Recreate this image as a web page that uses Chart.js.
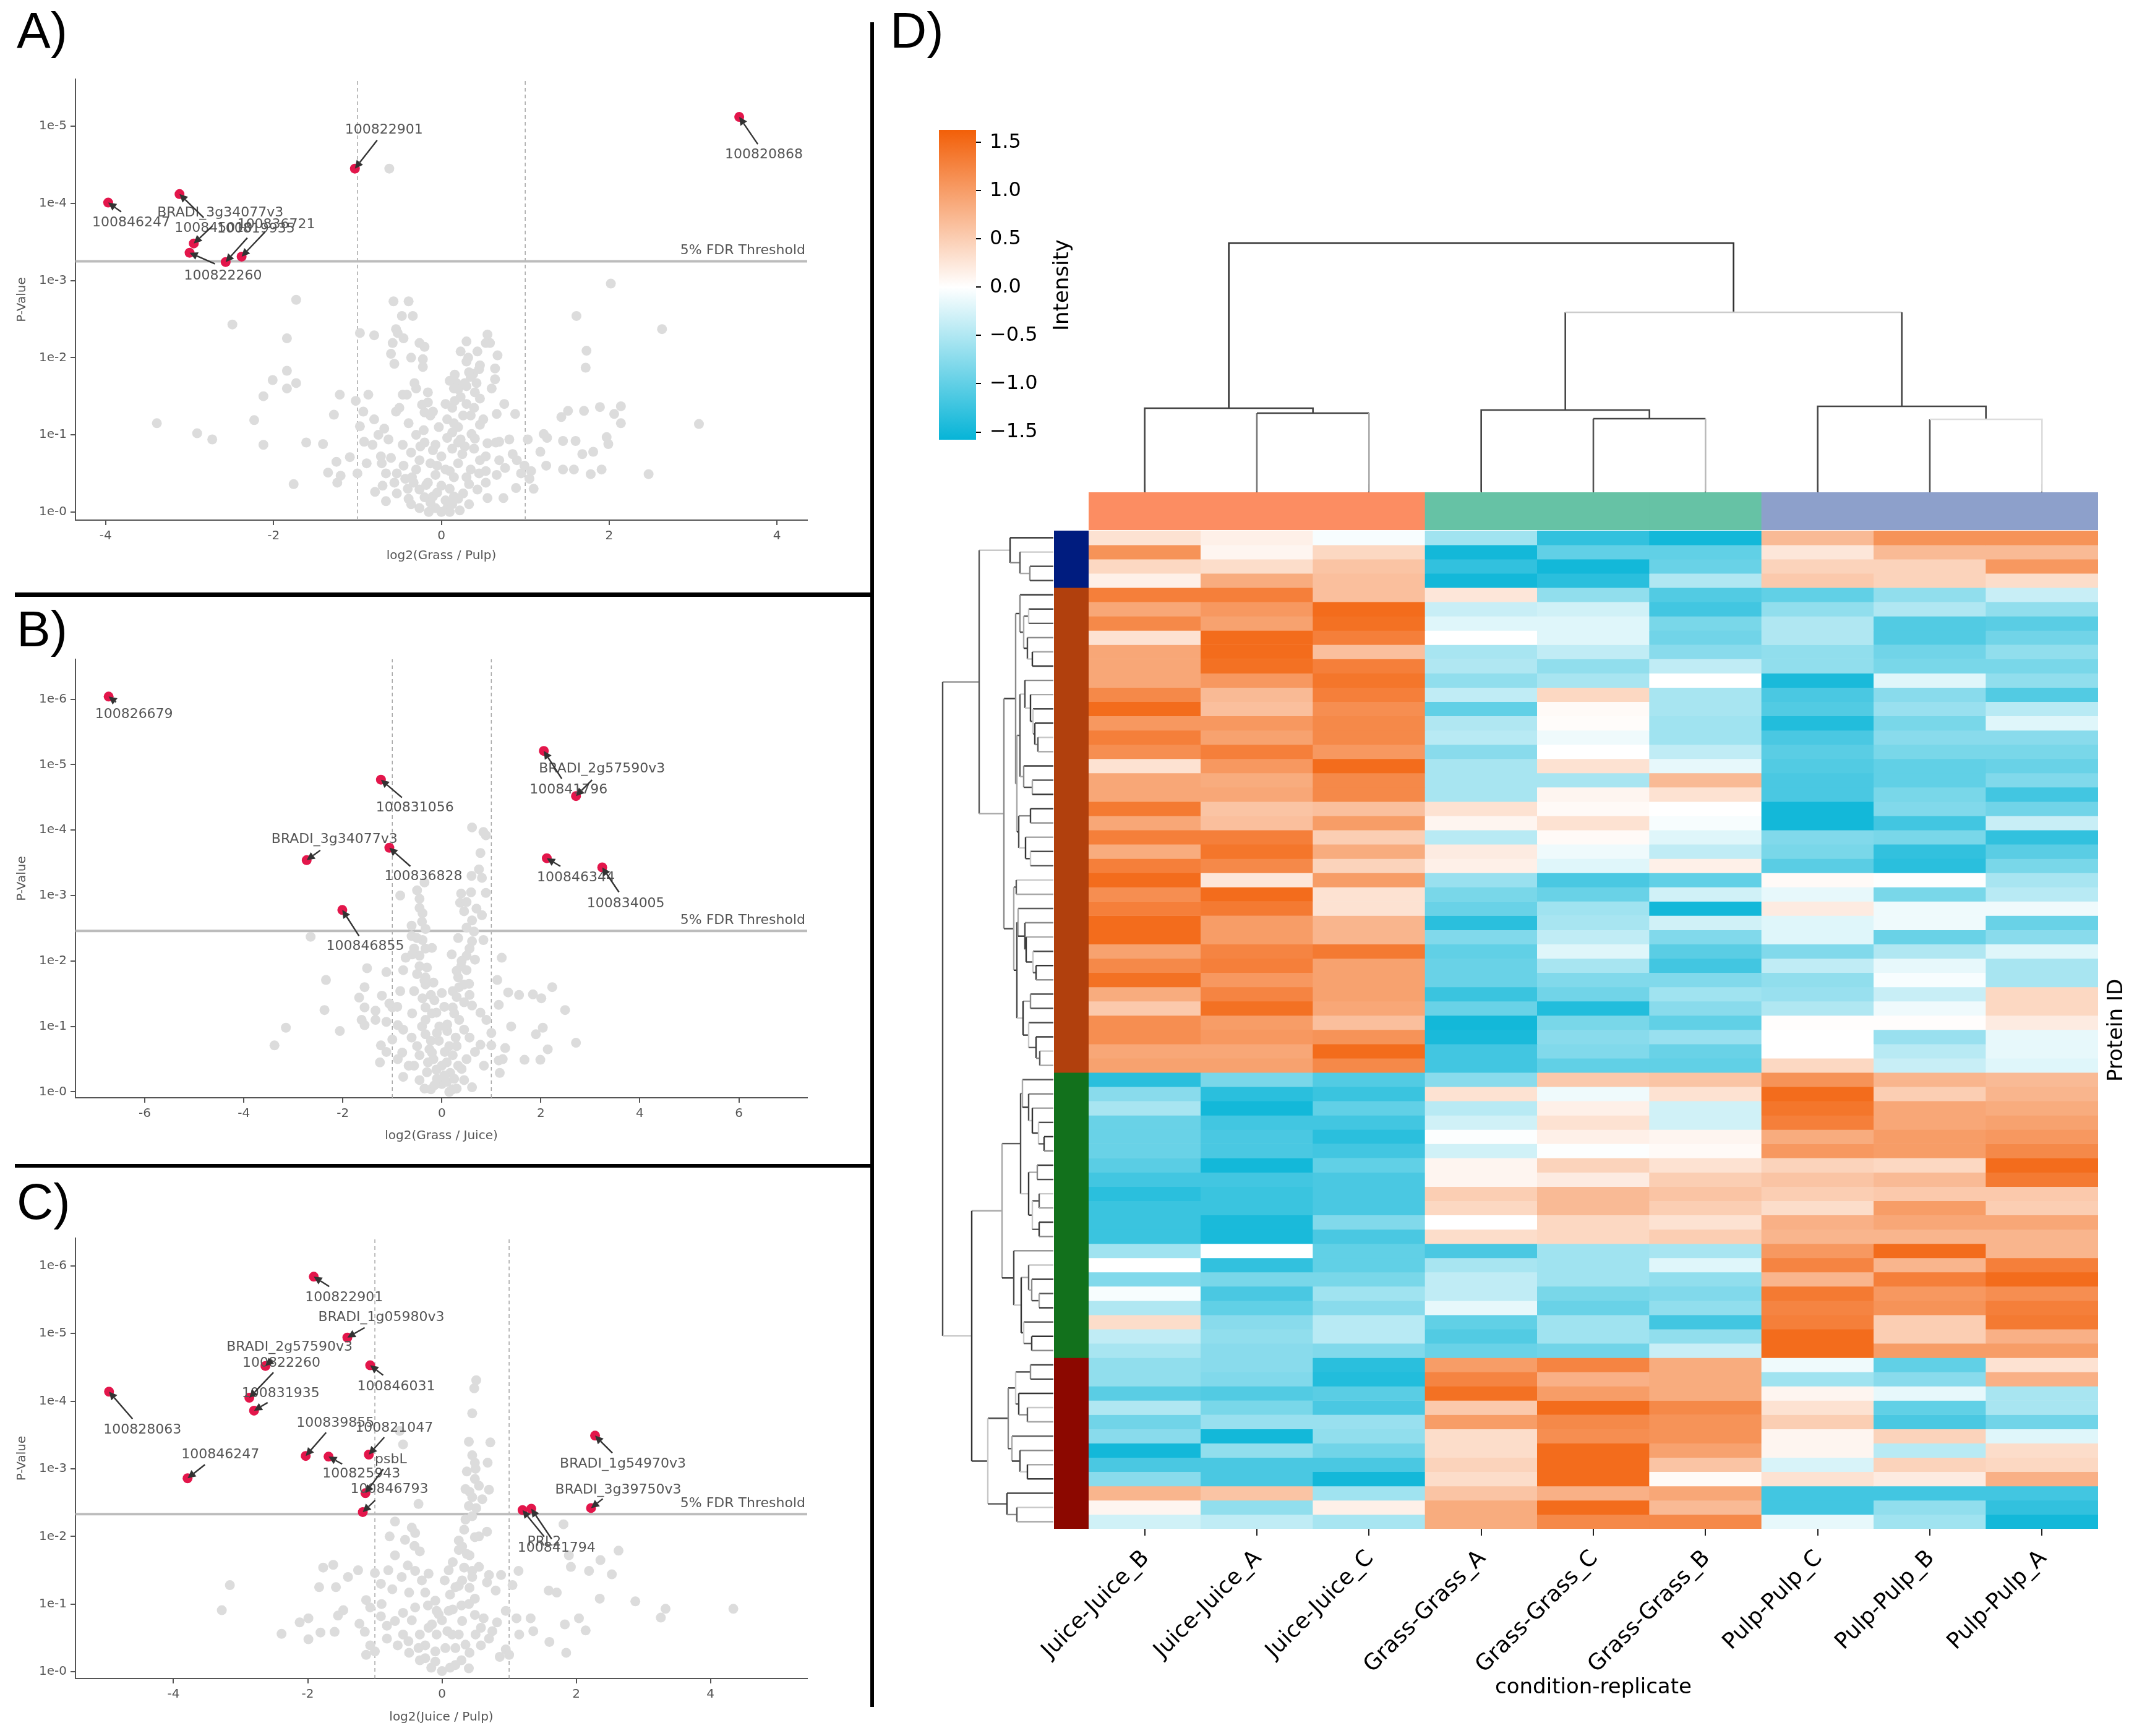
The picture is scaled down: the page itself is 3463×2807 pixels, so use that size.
<!DOCTYPE html>
<html><head><meta charset="utf-8">
<script src="https://cdn.jsdelivr.net/npm/chart.js@4.4.1/dist/chart.umd.min.js"></script>
<style>
html,body{margin:0;padding:0;background:#fff;}
#root{position:relative;width:3463px;height:2807px;overflow:hidden;background:#fff;}
canvas{position:absolute;}
.lbl{position:absolute;font-family:'Liberation Sans',Arial,sans-serif;font-size:82px;line-height:82px;color:#000;}
.sep{position:absolute;background:#000;}
</style></head>
<body><div id="root">
<div class="lbl" style="left:27px;top:8px;">A)</div>
<div class="lbl" style="left:27px;top:976px;">B)</div>
<div class="lbl" style="left:27px;top:1902px;">C)</div>
<div class="lbl" style="left:1439px;top:8px;">D)</div>
<div class="sep" style="left:1407px;top:36px;width:6px;height:2724px;"></div>
<div class="sep" style="left:24px;top:958px;width:1386px;height:7px;"></div>
<div class="sep" style="left:24px;top:1882px;width:1386px;height:6px;"></div>
</div>
<script>
// ================= DATA =================
// Volcano A: log2(Grass / Pulp), y = -log10(p)
const grayA = [[-0.62,4.45],[2.02,2.96],[-1.73,2.75],[-0.57,2.73],[-0.39,2.73],[-0.47,2.54],[-0.34,2.54],[1.61,2.54],[-2.49,2.43],[2.63,2.37],[-0.97,2.32],[-0.80,2.29],[-0.54,2.37],[-0.52,2.32],[-1.84,2.25],[-0.58,2.19],[-0.26,2.19],[-0.20,2.14],[0.30,2.21],[0.53,2.19],[0.58,2.19],[0.23,2.08],[0.43,2.08],[0.67,2.03],[1.73,2.09],[-0.36,2.0],[-0.22,1.98],[-0.56,1.92],[-0.22,1.88],[0.32,2.0],[0.46,1.90],[0.64,1.86],[0.64,1.72],[1.72,1.87],[0.33,1.81],[0.38,1.79],[-1.84,1.83],[-2.01,1.71],[-1.73,1.67],[-1.84,1.60],[-2.12,1.50],[-0.32,1.67],[0.18,1.67],[0.28,1.67],[0.42,1.67],[-1.21,1.52],[-0.87,1.52],[-0.46,1.52],[-0.41,1.52],[-0.16,1.55],[0.2,1.59],[0.16,1.44],[-1.02,1.44],[-0.93,1.30],[-0.54,1.30],[-1.28,1.26],[-0.16,1.42],[-0.20,1.29],[1.51,1.31],[1.70,1.31],[1.89,1.36],[2.06,1.27],[2.14,1.37],[1.43,1.23],[0.66,1.27],[0.88,1.27],[0.46,1.13],[2.14,1.15],[3.07,1.14],[-3.39,1.15],[-2.23,1.19],[-2.91,1.02],[-2.73,0.94],[-2.12,0.87],[-1.61,0.90],[-1.41,0.88],[-0.97,1.11],[-0.92,0.91],[-0.68,1.08],[-0.63,0.94],[-0.39,1.15],[-0.21,1.06],[0.13,1.03],[0.23,0.94],[0.36,1.01],[0.55,0.89],[0.69,0.91],[0.81,0.94],[1.03,0.94],[1.22,1.01],[1.26,0.96],[1.45,0.92],[1.60,0.92],[1.97,0.97],[1.99,0.88],[1.18,0.78],[1.68,0.75],[1.81,0.78],[-1.25,0.65],[-1.09,0.71],[-0.89,0.63],[-0.71,0.63],[-1.35,0.51],[-1.20,0.47],[-1.24,0.38],[-1.76,0.36],[-0.53,0.50],[-0.43,0.43],[-0.33,0.38],[-0.79,0.26],[-0.70,0.34],[-0.36,0.10],[0.55,0.18],[0.74,0.18],[0.89,0.31],[1.05,0.43],[1.07,0.53],[1.25,0.60],[1.45,0.55],[1.58,0.55],[1.78,0.49],[1.91,0.55],[2.47,0.49],[0.90,0.67],[0.99,0.60],[0.69,0.67],[0.76,0.57],[0.46,0.67],[0.53,0.53],[0,0],[-0.07,0.05],[0.07,0.05],[-0.13,0.12],[0.13,0.10],[-0.2,0.19],[0.2,0.17],[-0.26,0.29],[0.26,0.24],[-0.16,0.38],[0,0.34],[0.33,0.36],[-0.07,0.48],[0.1,0.53],[-0.13,0.63],[0.2,0.63],[0,0.72],[0.13,0.82],[-0.07,0.87],[0.07,0.96],[0.2,1.1],[0.26,1.25],[0.13,1.35],[0.23,1.49],[0.30,1.63],[0.16,1.78],[-0.26,0.67],[-0.36,0.77],[-0.46,0.87],[-0.53,0.24],[-0.66,0.14],[0.33,0.10],[0.43,0.29],[0.53,0.38],[0.66,0.48],[-0.26,0.05],[-0.39,0.17],[-0.56,0.38],[-0.66,0.50],[-0.72,0.72],[-0.82,0.87],[0.39,0.82],[0.53,0.72],[-0.03,1.1],[-0.13,1.25],[-0.23,1.39],[0.07,1.2],[0.39,1.35],[0.46,1.47],[-0.1,0.2],[0.1,0.3],[0.05,0.15],[-0.05,0.6],[0.15,0.45],[-0.2,0.9],[0.28,0.85],[0.35,0.55],[-0.3,0.55],[0.05,1.4],[0.4,1.55],[0.1,0.0],[-0.15,0.0],[0.22,0.02],[-0.05,0.25],[0.15,0.2],[-0.18,0.35],[0.3,0.45],[-0.35,0.45],[0.45,0.5],[-0.45,0.6],[0.25,0.75],[-0.1,0.8],[0.4,0.95],[-0.3,1.0],[0.15,1.15],[-0.1,1.3],[0.35,1.25],[0.3,1.4],[-0.3,1.6],[0.1,1.7],[0.45,1.85],[0.3,1.95],[0.55,2.3],[-0.6,2.05],[-0.45,2.25],[0.6,1.6],[0.75,1.4],[-0.8,1.2],[-0.6,0.7],[0.85,0.75],[1.1,0.3],[-1.0,0.5],[0.95,0.5],[0.65,0.9],[-0.75,1.0],[0.5,1.2],[-0.5,1.35],[0.05,0.55],[0.2,0.9],[-0.25,0.85],[0.15,1.6],[0.35,1.75],[-0.4,0.3]];
const redA = [[3.55,5.12],[-1.03,4.45],[-3.97,4.01],[-3.12,4.12],[-2.95,3.48],[-3.0,3.36],[-2.57,3.24],[-2.38,3.31]];
const labelsA = ['100820868','100822901','100846247','BRADI_3g34077v3','100845010','100822260','100819935','100836721'];
const fdrA = 3.25;

// Volcano B: log2(Grass / Juice)
const grayB = [[0.61,4.04],[0.84,3.97],[0.89,3.92],[0.78,3.65],[0.81,3.27],[-0.5,3.08],[-0.84,3.0],[0.39,3.03],[0.59,3.05],[0.89,3.04],[-0.45,2.81],[-0.39,2.73],[0.37,2.89],[0.45,2.76],[0.81,2.70],[0.61,2.62],[-0.61,2.54],[-0.33,2.49],[0.50,2.51],[-2.65,2.37],[-0.61,2.38],[-0.39,2.32],[0.33,2.35],[0.84,2.32],[-0.33,2.19],[-0.45,2.08],[0.56,2.19],[-0.73,2.05],[0.67,2.02],[1.21,2.05],[-1.51,1.89],[-1.12,1.83],[-0.78,1.86],[0.39,1.92],[0.50,1.86],[-2.34,1.71],[1.12,1.71],[-0.33,1.75],[-0.17,1.67],[0.33,1.75],[-1.56,1.60],[-1.21,1.47],[-0.84,1.54],[-0.56,1.54],[-0.39,1.43],[0,1.51],[0.22,1.54],[0.56,1.48],[1.34,1.52],[1.56,1.48],[1.84,1.49],[2.23,1.60],[2.01,1.43],[-1.67,1.44],[-2.37,1.25],[-1.56,1.29],[-1.34,1.24],[-1.06,1.35],[-1.0,1.29],[-0.33,1.29],[-0.11,1.21],[0.22,1.29],[0.45,1.37],[0.61,1.32],[0.78,1.21],[1.15,1.33],[2.49,1.25],[-1.62,1.10],[-1.56,1.02],[-1.34,1.10],[-1.12,1.07],[-0.89,1.02],[-2.06,0.93],[1.40,1.0],[2.04,0.98],[-3.15,0.98],[-0.78,0.95],[-0.61,0.83],[-0.33,0.88],[-0.22,0.78],[0.11,0.93],[0.28,0.83],[0.56,0.83],[0.78,0.72],[1.00,0.71],[1.28,0.67],[1.90,0.88],[2.14,0.65],[-3.38,0.71],[2.71,0.75],[-1.23,0.71],[-1.12,0.61],[-1.25,0.45],[-0.89,0.50],[-0.67,0.40],[-0.45,0.56],[-0.28,0.45],[-0.11,0.34],[0,0.12],[0.17,0.29],[0.33,0.40],[0.50,0.50],[0.67,0.61],[0.61,0.07],[1.15,0.48],[1.17,0.29],[1.23,0.5],[1.67,0.49],[1.99,0.49],[-0.22,0.04],[0.22,0.04],[-0.45,0.18],[0.45,0.18],[-0.78,0.23],[-0.56,0.4],[-0.33,1.10],[0.11,1.03],[-0.06,0.78],[0.06,0.61],[-0.17,0.50],[0.22,0.56],[-0.33,1.64],[-0.45,1.92],[0.5,2.08],[0.61,2.30],[0.45,1.64],[-0.56,2.19],[-0.22,1.48],[-0.1,0.2],[0.1,0.15],[0.0,0.4],[-0.25,0.65],[0.3,0.7],[-0.4,1.0],[0.35,1.1],[-0.2,1.2],[0.05,1.3],[0.3,1.45],[-0.5,1.8],[0.4,2.0],[-0.4,2.6],[0.5,2.9],[-0.35,3.2],[-0.15,0.1],[0.05,0.25],[-0.3,0.3],[0.25,0.2],[0.4,0.35],[-0.5,0.7],[0.15,0.7],[-0.05,1.0],[0.45,0.95],[-0.6,1.2],[0.25,1.2],[-0.15,1.4],[0.55,1.65],[-0.3,1.9],[0.3,1.85],[-0.6,2.1],[0.65,2.45],[-0.5,2.35],[0.7,2.8],[-0.45,2.95],[0.75,3.4],[-0.9,1.3],[0.9,1.1],[-1.0,0.8],[1.0,0.9],[-0.8,0.6],[0.85,0.4],[-0.2,0.6],[0.1,0.45],[-0.1,0.9],[0.35,1.6],[-0.35,1.7],[0.2,2.1],[-0.2,2.2],[0.6,3.3],[0.3,0.05],[-0.35,0.05],[0.15,0.0]];
const redB = [[-6.73,6.04],[2.06,5.21],[2.71,4.52],[-1.23,4.77],[-2.73,3.54],[-1.06,3.73],[2.12,3.57],[3.24,3.43],[-2.01,2.78]];
const labelsB = ['100826679','BRADI_2g57590v3','100841796','100831056','BRADI_3g34077v3','100836828','100846344','100834005','100846855'];
const fdrB = 2.46;

// Volcano C: log2(Juice / Pulp)
const grayC = [[0.51,4.31],[0.48,4.19],[0.45,3.82],[0.40,3.40],[0.72,3.39],[-0.58,3.36],[-0.63,3.56],[0.45,3.2],[0.49,3.09],[0.68,3.09],[0.37,2.96],[0.49,2.85],[0.70,2.69],[0.41,2.66],[0.45,2.58],[-0.35,2.48],[0.40,2.45],[0.51,2.42],[1.81,2.18],[-0.70,2.22],[-0.45,2.13],[-0.4,2.05],[-0.78,2.0],[0.33,2.1],[0.67,2.07],[0.49,1.99],[1.89,1.72],[2.63,1.79],[2.36,1.65],[-0.41,1.86],[-0.33,1.78],[-0.70,1.72],[0.25,1.80],[0.37,1.74],[0.25,1.94],[1.92,1.55],[-1.62,1.58],[-1.77,1.54],[-1.25,1.50],[-1.0,1.46],[-1.40,1.40],[-0.51,1.57],[-0.40,1.49],[0.33,1.54],[0.45,1.49],[0.70,1.43],[1.14,1.49],[2.19,1.49],[2.53,1.44],[0.88,1.43],[-3.16,1.28],[-1.83,1.25],[-1.58,1.25],[-0.91,1.30],[-0.74,1.22],[0.25,1.27],[0.41,1.24],[0.67,1.32],[1.05,1.28],[1.59,1.20],[1.71,1.17],[2.35,1.08],[2.88,1.04],[3.33,0.93],[3.26,0.80],[4.34,0.93],[-3.28,0.91],[-1.13,1.06],[-1.07,0.95],[-1.47,0.91],[-1.55,0.83],[-2.12,0.73],[-1.99,0.79],[-2.39,0.56],[-1.81,0.58],[-1.60,0.59],[-1.99,0.48],[-1.23,0.71],[-1.15,0.59],[-0.91,0.82],[-0.82,0.68],[-0.58,0.87],[-0.45,0.76],[-0.21,0.98],[-0.08,0.90],[0.16,0.92],[0.29,0.98],[0.49,0.84],[0.62,0.79],[0.82,0.73],[1.11,0.79],[1.32,0.79],[1.83,0.70],[2.04,0.79],[2.14,0.61],[1.60,0.44],[1.85,0.28],[1.15,0.55],[1.36,0.60],[0.95,0.33],[0.86,0.22],[-1.13,0.25],[-1.07,0.39],[-0.82,0.49],[-0.66,0.39],[-0.49,0.28],[-0.33,0.17],[-0.16,0.06],[0,0.01],[0.12,0.06],[0.29,0.17],[0.41,0.28],[0.58,0.39],[0.70,0.49],[-0.08,0.55],[0.08,0.60],[-0.25,0.39],[0.25,0.55],[0,0.76],[0.12,1.14],[0.04,1.35],[0.16,1.62],[0.41,1.72],[-0.25,1.17],[-0.49,1.17],[0.49,1.08],[-0.33,0.55],[-0.58,0.55],[0.58,0.65],[-0.1,0.3],[0.2,0.35],[0.1,0.9],[-0.15,0.7],[0.3,1.35],[-0.2,1.45],[0.35,2.25],[0.55,2.75],[-0.25,0.2],[0.4,0.05],[-0.1,0.15],[0.2,0.1],[-0.35,0.35],[0.35,0.4],[-0.5,0.45],[0.5,0.55],[-0.2,0.65],[0.3,0.75],[-0.4,0.95],[0.4,1.0],[-0.1,1.05],[0.2,1.25],[-0.3,1.35],[0.45,1.4],[0.1,1.5],[0.55,1.55],[-0.6,1.4],[0.3,1.85],[0.55,2.0],[0.45,2.3],[0.6,2.55],[0.35,2.7],[0.5,3.0],[-0.55,1.95],[-0.8,1.5],[0.8,1.2],[-0.9,1.0],[0.95,0.9],[-0.7,0.75],[0.75,0.6],[-1.0,0.3],[1.0,0.25],[0.05,0.35],[-0.05,0.85],[0.15,0.55]];
const redC = [[-1.91,5.84],[-1.41,4.94],[-2.63,4.52],[-2.87,4.05],[-2.80,3.86],[-1.07,4.53],[-4.96,4.14],[-2.03,3.19],[-1.69,3.18],[-1.09,3.21],[-1.14,2.64],[-1.18,2.36],[-3.79,2.86],[2.28,3.49],[2.22,2.42],[1.20,2.39],[1.33,2.41]];
const labelsC = ['100822901','BRADI_1g05980v3','BRADI_2g57590v3','100822260','100831935','100846031','100828063','100839855','100825943','100821047','psbL','100846793','100846247','BRADI_1g54970v3','BRADI_3g39750v3','100841794','PRL2'];
const fdrC = 2.33;
const foldThreshold = 1;

// Heatmap (rows in dendrogram order, columns in colLabels order)
const colLabels = ['Juice-Juice_B','Juice-Juice_A','Juice-Juice_C','Grass-Grass_A','Grass-Grass_C','Grass-Grass_B','Pulp-Pulp_C','Pulp-Pulp_B','Pulp-Pulp_A'];
const colCondition = ['Juice','Juice','Juice','Grass','Grass','Grass','Pulp','Pulp','Pulp'];
const blueRows = [
[0.3,0.15,-0.05,-0.6,-1.3,-1.5,0.7,1.1,1.1],
[1.1,0.1,0.4,-1.5,-1.0,-1.0,0.25,0.7,0.7],
[0.4,0.35,0.6,-1.3,-1.5,-0.95,0.45,0.45,1.05],
[0.15,0.85,0.65,-1.5,-1.35,-0.5,0.55,0.45,0.35]];
const brownRows = [
[1.3,1.3,0.65,0.25,-0.7,-1.1,-1.0,-0.7,-0.35],
[0.9,1.05,1.5,-0.35,-0.3,-1.2,-0.7,-0.5,-0.7],
[1.2,0.95,1.45,-0.2,-0.2,-0.85,-0.5,-1.1,-1.05],
[0.3,1.5,1.3,0.0,-0.2,-0.9,-0.5,-1.1,-0.9],
[0.9,1.5,0.65,-0.55,-0.4,-0.75,-0.7,-0.9,-0.7],
[0.9,1.45,1.3,-0.5,-0.7,-0.4,-0.7,-0.85,-0.85],
[0.9,1.05,1.4,-0.7,-0.55,0.0,-1.45,-0.2,-0.7],
[1.2,0.7,1.3,-0.4,0.4,-0.55,-1.15,-0.75,-1.1],
[1.5,0.65,1.15,-1.0,0.05,-0.55,-1.1,-0.65,-0.45],
[1.05,1.05,1.2,-0.5,0.03,-0.6,-1.4,-0.85,-0.2],
[1.3,0.95,1.2,-0.45,-0.1,-0.6,-1.15,-0.75,-0.75],
[1.15,1.3,1.05,-0.75,0.0,-0.4,-1.05,-0.85,-0.85],
[0.3,1.05,1.5,-0.55,0.3,-0.15,-1.1,-1.0,-0.95],
[0.9,0.85,1.2,-0.55,-0.55,0.7,-1.15,-1.0,-0.8],
[0.9,0.9,1.2,-0.55,0.1,0.3,-1.15,-0.85,-1.2],
[1.35,0.6,0.65,0.3,0.05,0.0,-1.5,-0.8,-0.9],
[0.9,0.65,1.0,0.1,0.3,-0.05,-1.5,-1.2,-0.35],
[1.3,1.3,0.5,-0.45,0.05,-0.2,-0.8,-0.85,-1.3],
[0.85,1.4,0.85,0.2,-0.1,-0.4,-0.85,-1.3,-1.05],
[1.3,1.2,0.45,0.15,-0.2,0.15,-1.05,-1.35,-0.85],
[1.5,0.25,1.0,-0.65,-1.15,-1.0,0.05,-0.02,-0.55],
[1.15,1.5,0.3,-0.85,-0.95,-0.3,-0.15,-0.85,-0.45],
[1.3,1.35,0.3,-0.95,-0.6,-1.5,0.2,-0.1,-0.1],
[1.5,1.0,0.75,-1.35,-0.55,-0.3,-0.2,-0.1,-0.95],
[1.5,1.0,0.75,-0.8,-0.4,-0.8,-0.2,-0.95,-0.75],
[0.95,1.25,1.35,-1.0,-0.2,-1.05,-0.8,-0.5,-0.2],
[1.2,1.3,0.95,-0.95,-0.55,-1.2,-0.4,-0.15,-0.55],
[1.45,1.05,0.95,-0.95,-0.8,-0.8,-0.7,-0.05,-0.55],
[0.85,1.25,0.95,-1.25,-0.9,-0.6,-0.65,-0.35,0.4],
[0.55,1.45,0.9,-0.95,-1.4,-0.75,-0.5,-0.1,0.4],
[1.15,1.0,0.65,-1.5,-0.85,-1.0,0.02,0.02,0.2],
[1.15,1.05,1.1,-1.45,-0.75,-0.65,0.0,-0.65,-0.15],
[0.9,0.9,1.5,-1.2,-0.8,-0.95,0.0,-0.45,-0.15],
[0.95,0.95,1.2,-1.2,-1.0,-1.0,0.4,-0.35,-0.2]];
const greenRows = [
[-1.35,-0.85,-1.1,-0.75,0.55,0.6,1.1,0.75,0.7],
[-0.75,-1.35,-1.25,0.3,-0.1,0.3,1.5,0.5,0.75],
[-0.55,-1.5,-1.0,-0.45,0.15,-0.3,1.4,0.9,0.85],
[-0.95,-1.2,-1.2,-0.3,0.3,-0.3,1.3,0.9,0.95],
[-0.95,-1.15,-1.35,-0.02,0.15,0.1,0.85,1.0,1.05],
[-0.95,-1.15,-1.2,-0.3,-0.02,0.05,1.05,1.0,1.2],
[-1.05,-1.5,-1.0,0.1,0.45,0.3,0.45,0.4,1.5],
[-1.2,-1.2,-1.15,0.1,0.2,0.5,0.6,0.7,1.35],
[-1.35,-1.25,-1.15,0.5,0.7,0.6,0.5,0.55,0.55],
[-1.25,-1.25,-1.15,0.4,0.7,0.5,0.35,1.0,0.5],
[-1.25,-1.45,-0.8,0.0,0.4,0.3,0.8,0.9,0.9],
[-1.25,-1.45,-1.15,0.35,0.4,0.5,0.75,0.75,0.75],
[-0.6,0.0,-1.0,-1.15,-0.6,-0.55,1.05,1.5,0.75],
[0.0,-1.3,-1.0,-0.55,-0.6,-0.2,1.25,0.75,1.3],
[-0.8,-0.85,-0.85,-0.4,-0.6,-0.7,0.75,1.3,1.5],
[-0.05,-1.15,-0.6,-0.4,-0.85,-0.8,1.35,1.05,1.15],
[-0.5,-1.0,-0.75,-0.15,-0.95,-0.7,1.25,1.1,1.3],
[0.35,-0.75,-0.45,-1.0,-0.6,-1.2,1.3,0.5,1.35],
[-0.4,-0.7,-0.45,-1.1,-0.6,-0.7,1.5,0.5,0.8],
[-0.55,-0.75,-0.8,-0.95,-0.9,-0.35,1.5,1.0,1.0]];
const redRows = [
[-0.7,-0.75,-1.35,1.0,1.25,0.85,-0.1,-1.0,0.3],
[-0.7,-0.8,-1.4,1.25,0.8,0.85,-0.6,-0.75,0.8],
[-1.05,-1.1,-1.05,1.45,1.0,0.85,0.1,-0.15,-0.55],
[-0.5,-0.85,-1.15,0.55,1.5,1.2,0.3,-1.0,-0.55],
[-0.9,-0.65,-0.65,1.0,1.2,1.1,0.5,-1.15,-0.9],
[-0.75,-1.5,-0.7,0.35,1.15,1.1,0.1,0.45,-0.2],
[-1.5,-0.7,-0.9,0.35,1.5,0.95,0.1,-0.45,0.35],
[-1.15,-1.15,-1.15,0.45,1.5,0.6,-0.25,0.45,0.4],
[-0.75,-1.15,-1.5,0.35,1.5,0.05,0.3,0.2,0.8],
[0.75,0.6,-0.6,0.6,0.8,0.9,-1.2,-1.2,-1.2],
[0.1,-0.7,0.15,0.85,1.5,0.7,-1.2,-0.7,-1.3],
[-0.3,-0.4,-0.55,0.85,1.2,1.2,-0.15,-0.6,-1.5]];
const colorbarTicks = [-1.5,-1.0,-0.5,0.0,0.5,1.0,1.5];
const cbMin = -1.58, cbMax = 1.63;

// Dendrograms: [left, right, height]; numbers are leaf indices
const colTree = [[0,[1,2,127],135],[[3,[4,5,118],132],[6,[7,8,117],138],290],402];
const blueTree = [0,[1,[2,3,38],54],70];
const brownTree = [
  [[4,[[5,6,40],[7,[8,9,34],42],48],54],
   [[[10,[11,[12,[13,[14,15,25],30],33],37],46],[16,[17,18,34],48],54],[[19,20,37],[21,[22,23,37],45],56],59],61],
  [[24,25,60],[[26,[27,[28,[29,[30,31,28],33],44],46],57],[[32,33,37],[34,[35,[36,37,22],28],40],49],59],64],
  80];
const greenTree = [
  [[38,[39,[40,[41,[42,43,15],24],34],40],50],[[44,45,26],[[46,47,23],[48,49,23],34],40],53],
  [50,[[51,[52,[53,54,23],35],40],[55,[56,57,35],48],52],64],
  83];
const redTree = [[[[58,59,37],[60,[61,62,42],56],61],[63,[64,[65,66,42],54],67],73],[67,[68,69,59],75],106];
const rowTree = [[blueTree, brownTree, 120],[greenTree, redTree, 132],179];

// ================= STYLE / HELPERS =================
const FONT = "'DejaVu Sans', sans-serif";
Chart.defaults.font.family = FONT;
Chart.defaults.animation = false;
Chart.defaults.responsive = false;
Chart.defaults.maintainAspectRatio = false;
Chart.defaults.devicePixelRatio = 1;
Chart.defaults.plugins.legend.display = false;
Chart.defaults.plugins.tooltip.enabled = false;

const root = document.getElementById('root');
function mkCanvas(l, t, w, h) {
  const c = document.createElement('canvas');
  c.width = w; c.height = h;
  c.style.left = l + 'px'; c.style.top = t + 'px';
  c.style.width = w + 'px'; c.style.height = h + 'px';
  root.appendChild(c);
  return c;
}
const xy = arr => arr.map(p => ({x: p[0], y: p[1]}));

// Label layout for annotations: [textDx, textDy, arrowStartDx, arrowStartDy] in pixels
const offA = [[40,61,30,44],[47,-62,36,-46],[37,33,21,15],[66,30,39,38],[32,-24,30,-28],[54,38,41,18],[49,-53,35,-39],[56,-52,38,-40]];
const offB = [[41,29,12,9],[94,29,29,45],[-12,-10,26,-26],[55,46,34,29],[45,-34,22,-16],[55,47,34,30],[47,32,22,13],[38,59,27,40],[37,59,27,42]];
const offC = [[49,34,25,16],[55,-32,28,-16],[39,-30,11,-10],[52,-56,39,-41],[43,-28,22,-13],[42,35,21,16],[54,62,38,44],[48,-53,33,-38],[53,28,22,12],[41,-43,25,-28],[41,-54,29,-39],[43,-37,20,-19],[53,-38,28,-22],[45,46,28,28],[44,-29,19,-15],[55,62,35,43],[21,54,33,49]];

function volcano(box, d) {
  const c = mkCanvas(box.left, box.top, box.w, box.h);
  const annot = {
    id: 'annot',
    afterDatasetsDraw(chart) {
      const {ctx, chartArea} = chart;
      const xs = chart.scales.x, ys = chart.scales.y;
      ctx.save();
      ctx.font = '22px ' + FONT;
      ctx.fillStyle = '#555';
      ctx.textAlign = 'right'; ctx.textBaseline = 'middle';
      ctx.fillText('5% FDR Threshold', chartArea.right - 3, ys.getPixelForValue(d.fdr) - 17);
      ctx.textAlign = 'center';
      d.red.forEach((p, i) => {
        const px = xs.getPixelForValue(p[0]), py = ys.getPixelForValue(p[1]);
        const o = d.off[i];
        ctx.fillText(d.labels[i], px + o[0], py + o[1]);
      });
      ctx.strokeStyle = '#333'; ctx.fillStyle = '#333'; ctx.lineWidth = 2.4;
      d.red.forEach((p, i) => {
        const px = xs.getPixelForValue(p[0]), py = ys.getPixelForValue(p[1]);
        const o = d.off[i];
        const sx = px + o[2], sy = py + o[3];
        const a = Math.atan2(py - sy, px - sx);
        const L = 13, W = 6.5;
        const bx = px - L * Math.cos(a), by = py - L * Math.sin(a);
        ctx.beginPath(); ctx.moveTo(sx, sy); ctx.lineTo(bx, by); ctx.stroke();
        ctx.beginPath();
        ctx.moveTo(px, py);
        ctx.lineTo(bx + W * Math.sin(a), by - W * Math.cos(a));
        ctx.lineTo(bx - W * Math.sin(a), by + W * Math.cos(a));
        ctx.closePath(); ctx.fill();
      });
      ctx.restore();
    }
  };
  const axisCommon = {
    grid: {drawOnChartArea: false, drawTicks: true, tickLength: 8, color: '#555', lineWidth: 2},
    border: {display: true, color: '#555', width: 2}
  };
  new Chart(c, {
    type: 'scatter',
    data: {datasets: [
      {data: xy(d.red), pointRadius: 8, pointHoverRadius: 8, backgroundColor: '#e3164b', borderWidth: 0},
      {data: xy(d.gray), pointRadius: 8, pointHoverRadius: 8, backgroundColor: '#dcdcdc', borderWidth: 0},
      {data: [{x: d.xmin, y: d.fdr}, {x: d.xmax, y: d.fdr}], showLine: true, borderColor: '#bcbcbc', borderWidth: 4, pointRadius: 0},
      {data: [{x: -foldThreshold, y: d.ymin}, {x: -foldThreshold, y: d.ymax}], showLine: true, borderColor: '#a8a8a8', borderWidth: 1.5, borderDash: [6, 5], pointRadius: 0},
      {data: [{x: foldThreshold, y: d.ymin}, {x: foldThreshold, y: d.ymax}], showLine: true, borderColor: '#a8a8a8', borderWidth: 1.5, borderDash: [6, 5], pointRadius: 0}
    ]},
    options: {
      layout: {padding: {left: 0, top: box.padTop, right: box.padRight, bottom: 0}},
      scales: {
        x: Object.assign({
          type: 'linear', min: d.xmin, max: d.xmax,
          afterFit: s => { s.height = box.xh; },
          ticks: {stepSize: 2, includeBounds: false, color: '#555', font: {size: 20}, padding: 6, maxRotation: 0},
          title: {display: true, text: d.xlabel, color: '#555', font: {size: 20}, padding: {top: 0, bottom: box.titlePad}}
        }, axisCommon),
        y: Object.assign({
          type: 'linear', min: d.ymin, max: d.ymax,
          afterFit: s => { s.width = 122; },
          ticks: {stepSize: 1, includeBounds: false, color: '#555', font: {size: 20}, padding: 6, callback: v => '1e-' + v},
          title: {display: true, text: 'P-Value', color: '#555', font: {size: 20}, padding: {top: 24, bottom: 0}}
        }, axisCommon)
      }
    },
    plugins: [annot]
  });
}

volcano({left: 0, top: 0, w: 1405, h: 955, padTop: 128, padRight: 100, xh: 114, titlePad: 44},
  {gray: grayA, red: redA, labels: labelsA, off: offA, fdr: fdrA, xmin: -4.36, xmax: 4.36, ymin: -0.106, ymax: 5.61, xlabel: 'log2(Grass / Pulp)'});
volcano({left: 0, top: 960, w: 1405, h: 925, padTop: 106, padRight: 100, xh: 110, titlePad: 36},
  {gray: grayB, red: redB, labels: labelsB, off: offB, fdr: fdrB, xmin: -7.40, xmax: 7.38, ymin: -0.09, ymax: 6.61, xlabel: 'log2(Grass / Juice)'});
volcano({left: 0, top: 1885, w: 1405, h: 922, padTop: 117, padRight: 100, xh: 93, titlePad: 18},
  {gray: grayC, red: redC, labels: labelsC, off: offC, fdr: fdrC, xmin: -5.46, xmax: 5.44, ymin: -0.10, ymax: 6.41, xlabel: 'log2(Juice / Pulp)'});

// ================= HEATMAP =================
const cNeg = [6, 180, 215], cMid = [255, 255, 255], cPos = [242, 95, 8];
function cmap(v) {
  let a, b, t;
  if (v >= 0) { a = cMid; b = cPos; t = Math.min(1, v / cbMax); }
  else { a = cMid; b = cNeg; t = Math.min(1, v / cbMin); }
  const r = Math.round(a[0] + (b[0] - a[0]) * t), g = Math.round(a[1] + (b[1] - a[1]) * t), bl = Math.round(a[2] + (b[2] - a[2]) * t);
  return `rgb(${r},${g},${bl})`;
}
const heatRows = [...blueRows, ...brownRows, ...greenRows, ...redRows];
const nRows = heatRows.length;
const rowGroups = [
  {n: blueRows.length, color: '#001c7f'},
  {n: brownRows.length, color: '#b1400d'},
  {n: greenRows.length, color: '#12711c'},
  {n: redRows.length, color: '#8c0800'}
];
const condColor = {Juice: '#fc8d62', Grass: '#66c2a5', Pulp: '#8da0cb'};

const heatText = {
  id: 'heatText',
  afterDraw(chart) {
    const ctx = chart.ctx;
    const xs = chart.scales.x;
    ctx.save();
    ctx.fillStyle = '#000';
    ctx.font = '36px ' + FONT;
    ctx.textAlign = 'right'; ctx.textBaseline = 'middle';
    colLabels.forEach((lab, i) => {
      ctx.save();
      ctx.translate(xs.getPixelForTick(i) + 2, chart.chartArea.bottom + 42);
      ctx.rotate(-Math.PI / 4);
      ctx.fillText(lab, 0, 0);
      ctx.restore();
    });
    ctx.font = '34px ' + FONT;
    ctx.textAlign = 'center';
    ctx.translate(1922, 808); ctx.rotate(-Math.PI / 2);
    ctx.fillText('Protein ID', 0, 0);
    ctx.restore();
  }
};
new Chart(mkCanvas(1500, 858, 1963, 1949), {
  type: 'bar',
  data: {
    labels: colLabels,
    datasets: heatRows.map(row => ({
      data: row.map(() => 1),
      backgroundColor: row.map(cmap),
      borderWidth: 0, barPercentage: 1, categoryPercentage: 1
    }))
  },
  options: {
    layout: {padding: {left: 260, right: 71, top: 0, bottom: 0}},
    scales: {
      x: {
        stacked: true,
        afterFit: s => { s.height = 335; s.paddingLeft = 0; s.paddingRight = 0; },
        ticks: {display: false, autoSkip: false},
        grid: {offset: false, drawOnChartArea: false, drawTicks: true, tickLength: 11, color: '#222', lineWidth: 2},
        border: {display: false},
        title: {display: true, text: 'condition-replicate', color: '#000', font: {size: 34}, padding: {top: 0, bottom: 57}}
      },
      y: {stacked: true, display: false, min: 0, max: nRows, reverse: true}
    }
  },
  plugins: [heatText]
});

// Column condition colour bar
new Chart(mkCanvas(1760, 776, 1632, 81), {
  type: 'bar',
  data: {labels: colLabels, datasets: [{data: colCondition.map(() => 1), backgroundColor: colCondition.map(k => condColor[k]), borderWidth: 0, barPercentage: 1, categoryPercentage: 1}]},
  options: {
    layout: {padding: 0},
    scales: {
      x: {position: 'top', afterFit: s => { s.height = 20; }, ticks: {display: false},
          grid: {offset: false, drawOnChartArea: false, drawTicks: true, tickLength: 13, color: '#222', lineWidth: 2}, border: {display: false}},
      y: {display: false, min: 0, max: 1}
    }
  }
});

// Row cluster colour bar
new Chart(mkCanvas(1704, 858, 56, 1614), {
  type: 'bar',
  data: {labels: [''], datasets: rowGroups.map(g => ({data: [g.n], backgroundColor: g.color, borderWidth: 0, barPercentage: 1, categoryPercentage: 1}))},
  options: {
    layout: {padding: 0},
    scales: {x: {stacked: true, display: false}, y: {stacked: true, display: false, min: 0, max: nRows, reverse: true}}
  }
});

// Dendrogram builder
function buildLinks(node, out) {
  if (typeof node === 'number') return {pos: node + 0.5, h: 0};
  const L = buildLinks(node[0], out), R = buildLinks(node[1], out);
  out.push({L, R, h: node[2]});
  return {pos: (L.pos + R.pos) / 2, h: node[2]};
}

// Column dendrogram
const colLinks = []; buildLinks(colTree, colLinks);
const colLinkShades = [['#777','#444','#aaa'],['#444','#444','#444'],['#555','#444','#bbb'],['#444','#444','#444'],['#555','#ddd','#ddd'],['#444','#444','#444'],['#444','#ccc','#444'],['#333','#333','#333']];
new Chart(mkCanvas(1760, 388, 1632, 410), {
  type: 'scatter',
  data: {datasets: colLinks.map((k, i) => ({
    data: [{x: k.L.pos, y: k.L.h}, {x: k.L.pos, y: k.h}, {x: k.R.pos, y: k.h}, {x: k.R.pos, y: k.R.h}],
    showLine: true, pointRadius: 0, borderWidth: 2.6, clip: false, borderColor: colLinkShades[i][1],
    segment: {borderColor: ctx => colLinkShades[i][ctx.p0DataIndex]}
  }))},
  options: {
    layout: {padding: {top: 5, bottom: 3, left: 0, right: 0}},
    scales: {x: {type: 'linear', min: 0, max: colLabels.length, display: false}, y: {type: 'linear', min: 0, max: 402, display: false}}
  }
});

// Row dendrogram
const rowLinks = []; buildLinks(rowTree, rowLinks);
const rowShades = ['#3c3c3c','#8a8a8a','#4a4a4a','#c8c8c8','#5a5a5a','#a8a8a8','#333333'];
new Chart(mkCanvas(1518, 858, 188, 1614), {
  type: 'scatter',
  data: {datasets: rowLinks.map((k, i) => ({
    data: [{x: k.L.h, y: k.L.pos}, {x: k.h, y: k.L.pos}, {x: k.h, y: k.R.pos}, {x: k.R.h, y: k.R.pos}],
    showLine: true, pointRadius: 0, borderWidth: 2.4, clip: false, borderColor: rowShades[i % 7],
    segment: {borderColor: ctx => rowShades[(i * 3 + ctx.p0DataIndex) % 7]}
  }))},
  options: {
    layout: {padding: {top: 0, bottom: 0, left: 6, right: 3}},
    scales: {x: {type: 'linear', min: 0, max: 179, reverse: true, display: false}, y: {type: 'linear', min: 0, max: nRows, reverse: true, display: false}}
  }
});

// Colour bar
const cbText = {
  id: 'cbText',
  afterDraw(chart) {
    const ctx = chart.ctx;
    ctx.save();
    ctx.font = '34px ' + FONT; ctx.fillStyle = '#000';
    ctx.textAlign = 'center'; ctx.textBaseline = 'middle';
    ctx.translate(218, 271); ctx.rotate(-Math.PI / 2);
    ctx.fillText('Intensity', 0, 0);
    ctx.restore();
  }
};
new Chart(mkCanvas(1500, 190, 300, 540), {
  type: 'bar',
  data: {labels: [''], datasets: [{
    data: [[cbMin, cbMax]], borderWidth: 0, barPercentage: 1, categoryPercentage: 1,
    backgroundColor: ctx => {
      const ch = ctx.chart; if (!ch.chartArea) return '#fff';
      const ys = ch.scales.y;
      const y0 = ys.getPixelForValue(cbMin), y1 = ys.getPixelForValue(cbMax);
      const g = ch.ctx.createLinearGradient(0, y0, 0, y1);
      g.addColorStop(0, cmap(cbMin));
      g.addColorStop((0 - cbMin) / (cbMax - cbMin), cmap(0));
      g.addColorStop(1, cmap(cbMax));
      return g;
    }
  }]},
  options: {
    layout: {padding: {left: 18, top: 20, bottom: 19, right: 0}},
    scales: {
      x: {display: false},
      y: {
        position: 'right', min: cbMin, max: cbMax,
        afterFit: s => { s.width = 222; s.paddingTop = 0; s.paddingBottom = 0; },
        afterBuildTicks: s => { s.ticks = colorbarTicks.map(v => ({value: v})); },
        ticks: {color: '#000', font: {size: 32}, padding: 14, callback: v => (v < 0 ? '\u2212' : '') + Math.abs(v).toFixed(1)},
        grid: {drawOnChartArea: false, drawTicks: true, tickLength: 8, color: '#000', lineWidth: 2},
        border: {display: false}
      }
    }
  },
  plugins: [cbText]
});
</script>
</body></html>
